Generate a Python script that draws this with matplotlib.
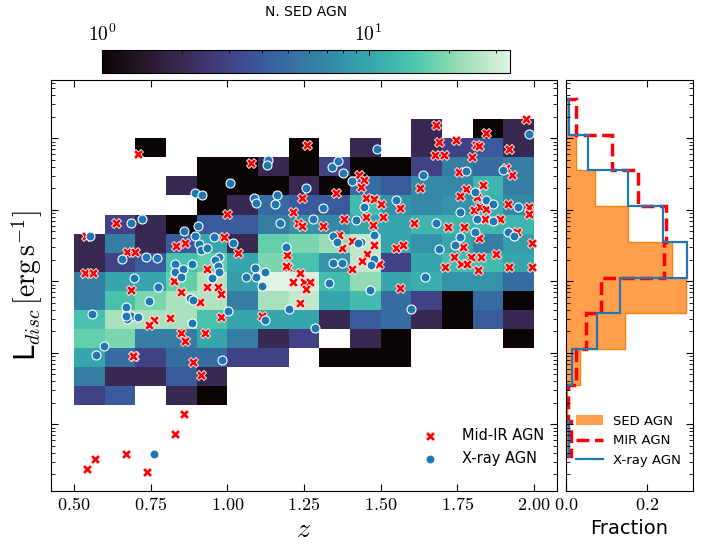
import numpy as np
import matplotlib
matplotlib.use('Agg')
import matplotlib.pyplot as plt
from matplotlib.colors import LogNorm
from matplotlib.ticker import MultipleLocator, FuncFormatter, FixedLocator
import seaborn as sns

plt.rcParams['mathtext.fontset'] = 'cm'

# SED AGN counts per (z, log L) cell, rows from the brightest bin down
z_edges = np.linspace(0.5, 2.0, 16)
logl_edges = np.linspace(43.267, 47.267, 16)
sed_counts = np.array([
    [0, 0, 0, 0, 0, 0, 0, 0, 0, 0, 0, 2, 0, 1, 2],
    [0, 0, 1, 0, 0, 0, 0, 1, 0, 2, 0, 2, 3, 4, 2],
    [0, 0, 0, 0, 1, 1, 2, 1, 3, 1, 1, 3, 6, 5, 6],
    [0, 0, 0, 2, 1, 1, 1, 2, 1, 5, 4, 7, 7, 12, 6],
    [0, 0, 0, 0, 1, 2, 5, 4, 4, 13, 8, 7, 8, 11, 7],
    [0, 3, 2, 1, 4, 4, 6, 8, 7, 10, 10, 12, 12, 12, 12],
    [2, 6, 2, 4, 10, 2, 17, 19, 22, 27, 10, 8, 10, 6, 9],
    [2, 3, 4, 14, 17, 10, 19, 14, 8, 27, 3, 10, 13, 13, 10],
    [6, 10, 10, 17, 25, 9, 34, 32, 13, 21, 10, 11, 8, 8, 5],
    [6, 14, 19, 24, 25, 6, 24, 28, 10, 13, 5, 3, 1, 5, 1],
    [14, 24, 24, 24, 14, 10, 10, 10, 2, 4, 5, 2, 1, 4, 2],
    [17, 19, 6, 6, 10, 6, 2, 3, 0, 2, 1, 0, 0, 0, 1],
    [10, 5, 3, 5, 5, 3, 3, 0, 1, 1, 1, 0, 0, 0, 0],
    [6, 2, 2, 4, 2, 0, 0, 0, 0, 0, 0, 0, 0, 0, 0],
    [3, 4, 0, 2, 1, 0, 0, 0, 0, 0, 0, 0, 0, 0, 0],
])

# Mid-IR selected AGN (z, log L_disc)
mir_z = [0.710, 1.077, 0.998, 0.637, 1.214, 1.229, 1.243, 0.538, 0.988, 0.863,
         0.832, 0.673, 0.700, 1.036, 1.194, 0.536, 0.563, 0.933, 0.826, 0.933,
         0.969, 0.978, 0.687, 0.848, 0.910, 1.197, 1.190, 1.214, 0.762, 0.743,
         0.813, 0.980, 0.848, 0.863, 0.926, 0.696, 0.691, 0.888, 0.915, 1.112,
         1.238, 1.236, 0.541, 0.568, 0.670, 0.737, 0.829, 0.858,
         1.260, 1.428, 1.445, 1.437, 1.355, 1.451, 1.479, 1.502, 1.564, 1.382,
         1.311, 1.452, 1.508, 1.475, 1.365, 1.405, 1.375, 1.478, 1.551, 1.572,
         1.610, 1.455, 1.680, 1.689, 1.677, 1.707, 1.746, 1.812, 1.822, 1.799,
         1.842, 1.918, 1.974, 1.754, 1.929, 1.910, 1.628, 1.778, 1.835, 1.758,
         1.815, 1.803, 1.824, 1.845, 1.914, 1.985, 1.984, 1.840, 1.890, 1.718,
         1.773, 1.820, 1.946, 1.993, 1.770, 1.740, 1.796, 1.826, 1.875, 1.438,
         1.495, 1.408, 1.249, 1.269, 1.258, 1.562, 1.711, 1.761, 1.782, 1.818,
         1.917, 1.995, 1.245]
mir_logl = [46.78, 46.66, 45.94, 45.81, 45.97, 45.81, 46.16, 45.64, 45.62, 45.53,
            45.49, 45.41, 45.41, 45.39, 45.37, 45.11, 45.11, 45.17, 45.00, 44.92,
            44.92, 44.82, 44.88, 44.85, 44.71, 45.20, 45.21, 44.99, 44.46, 44.39,
            44.49, 44.50, 44.28, 44.17, 44.28, 43.95, 43.96, 43.87, 43.69, 44.51,
            44.70, 45.11, 42.37, 42.52, 42.59, 42.33, 42.86, 43.15,
            46.91, 46.48, 46.42, 46.32, 46.23, 46.17, 46.15, 46.08, 46.02, 45.87,
            45.78, 45.90, 45.90, 45.79, 45.65, 45.56, 45.46, 45.51, 45.46, 45.51,
            45.82, 45.38, 47.19, 46.95, 46.77, 46.77, 46.97, 46.91, 46.89, 46.74,
            47.08, 46.85, 47.27, 46.53, 46.49, 46.59, 46.31, 46.29, 46.35, 46.19,
            46.18, 46.00, 46.04, 46.01, 46.08, 46.04, 45.94, 45.87, 45.87, 45.76,
            45.76, 45.61, 45.69, 45.54, 45.48, 45.34, 45.34, 45.34, 45.38, 45.29,
            45.24, 45.17, 44.99, 44.99, 44.89, 44.91, 45.20, 45.24, 45.24, 45.16,
            45.20, 45.20, 45.77]

# X-ray selected AGN (z, log L_disc)
xray_z = [1.134, 1.129, 1.009, 0.893, 0.916, 1.088, 1.093, 1.162, 1.154, 0.723,
          0.686, 1.171, 0.553, 0.858, 0.906, 0.894, 0.958, 1.020, 0.907, 0.915,
          0.933, 1.190, 1.257, 0.735, 0.772, 0.658, 0.974, 0.696, 0.828, 0.828,
          0.854, 0.850, 0.886, 0.960, 0.969, 0.972, 0.951, 0.775, 0.745, 0.877,
          0.888, 0.668, 0.560, 1.002, 1.091, 1.122, 1.114, 1.201, 0.687, 0.710,
          0.674, 0.668, 0.884, 0.599, 0.571, 0.982, 1.122, 1.061, 1.093, 0.761,
          1.984, 1.488, 1.341, 1.361, 1.376, 1.405, 1.639, 1.778, 1.899, 1.313,
          1.551, 1.445, 1.280, 1.419, 1.479, 1.437, 1.427, 1.345, 1.357, 1.680,
          1.758, 1.691, 1.744, 1.758, 1.809, 1.845, 1.866, 1.813, 1.867, 1.914,
          1.934, 1.948, 1.479, 1.470, 1.346, 1.373, 1.332, 1.465, 1.643, 1.599,
          1.807, 1.285]
xray_logl = [46.69, 46.63, 46.37, 46.24, 46.20, 46.16, 46.09, 46.21, 46.08, 45.87,
             45.82, 45.82, 45.64, 45.70, 45.78, 45.63, 45.62, 45.54, 45.52, 45.44,
             45.46, 45.48, 46.30, 45.34, 45.32, 45.31, 45.34, 45.04, 45.24, 45.13,
             45.17, 45.06, 45.24, 45.30, 45.21, 45.13, 45.04, 44.92, 44.72, 44.76,
             44.74, 44.64, 44.54, 44.59, 45.19, 45.13, 44.94, 44.61, 44.51, 44.50,
             44.47, 44.52, 44.42, 44.10, 43.97, 43.90, 44.46, 45.06, 45.06, 42.58,
             47.06, 46.85, 46.60, 46.68, 46.52, 46.40, 46.48, 46.54, 46.55, 46.02,
             46.14, 46.04, 45.87, 45.86, 45.65, 45.55, 45.53, 45.64, 45.55, 45.82,
             45.62, 45.45, 45.51, 45.97, 46.25, 46.14, 46.08, 45.87, 45.84, 45.69,
             45.64, 46.04, 45.31, 45.23, 45.25, 45.25, 44.98, 44.88, 45.06, 44.61,
             45.69, 44.34]

# luminosity distributions (fraction per 0.5 dex bin, lowest bin first)
frac_edges = np.linspace(42.55, 47.55, 11)
sed_frac = [0.002, 0.002, 0.036, 0.146, 0.297, 0.262, 0.153, 0.072, 0.025, 0.004]
mir_frac = [0.012, 0.004, 0.024, 0.049, 0.088, 0.244, 0.247, 0.178, 0.113, 0.024]
xray_frac = [0.008, 0.0, 0.016, 0.076, 0.134, 0.301, 0.240, 0.153, 0.055, 0.0075]

fig = plt.figure(figsize=(7.11, 5.45), dpi=100)
ax = fig.add_axes([0.0717, 0.0991, 0.7117, 0.7541])
axh = fig.add_axes([0.796, 0.0991, 0.1786, 0.7541], sharey=ax)
cax = fig.add_axes([0.1435, 0.866, 0.574, 0.042])

cmap = sns.color_palette('mako', as_cmap=True)
grid = np.ma.masked_equal(sed_counts[::-1], 0)
mesh = ax.pcolormesh(z_edges, 10 ** logl_edges, grid, cmap=cmap,
                     norm=LogNorm(vmin=1, vmax=34))

ax.scatter(mir_z, 10 ** np.array(mir_logl), marker='X', s=52, color='red',
           edgecolor='white', linewidth=0.6, label='Mid-IR AGN', zorder=3)
ax.scatter(xray_z, 10 ** np.array(xray_logl), marker='o', s=42, color='C0',
           edgecolor='white', linewidth=0.8, label='X-ray AGN', zorder=3)

ax.set_yscale('log')
ax.set_xlim(0.425, 2.075)
ax.set_ylim(10 ** 42.067, 10 ** 47.815)
ax.xaxis.set_major_locator(MultipleLocator(0.25))
ax.xaxis.set_major_formatter(FuncFormatter(lambda v, p: r'$%.2f$' % v))
ax.tick_params(which='both', direction='in', top=True, right=True, labelsize=13)
ax.tick_params(axis='y', which='both', labelleft=False)
ax.tick_params(which='major', length=5)
ax.tick_params(which='minor', length=3)
ax.set_xlabel(r'$z$', fontsize=20, labelpad=1)
ax.set_ylabel(r'L$_{disc}\,[\mathrm{erg\,s^{-1}}]$', fontsize=20)
ax.legend(loc='lower right', frameon=False, fontsize=10.5, handletextpad=1.2,
          bbox_to_anchor=(1.0, 0.03))

cb = fig.colorbar(mesh, cax=cax, orientation='horizontal')
cax.xaxis.set_ticks_position('top')
cax.xaxis.set_label_position('top')
cax.xaxis.set_major_locator(FixedLocator([1, 10]))
cax.xaxis.set_major_formatter(FuncFormatter(lambda v, p: r'$10^{%d}$' % round(np.log10(v))))
cax.tick_params(which='both', direction='in', labelsize=14)
cax.set_xlabel('N. SED AGN', fontsize=10, labelpad=6)

# side panel: luminosity histograms
axh.stairs(sed_frac, 10 ** frac_edges, orientation='horizontal', fill=True,
           color='C1', alpha=0.75, label='SED AGN')
axh.stairs(sed_frac, 10 ** frac_edges, orientation='horizontal', color='C1',
           linewidth=1)
axh.stairs(mir_frac, 10 ** frac_edges, orientation='horizontal', color='red',
           linestyle='--', linewidth=2.5, label='MIR AGN')
axh.stairs(xray_frac, 10 ** frac_edges, orientation='horizontal', color='C0',
           linewidth=1.6, label='X-ray AGN')
axh.set_xlim(0, 0.3147)
axh.xaxis.set_major_locator(MultipleLocator(0.2))
axh.xaxis.set_major_formatter(FuncFormatter(lambda v, p: r'$%.1f$' % v))
axh.tick_params(which='both', direction='in', top=True, right=True, labelsize=13)
axh.tick_params(axis='y', which='both', labelleft=False)
axh.tick_params(which='major', length=5)
axh.tick_params(which='minor', length=3)
axh.set_xlabel('Fraction', fontsize=14)
axh.legend(loc='lower right', frameon=False, fontsize=9.5,
           bbox_to_anchor=(1.0, 0.03))

fig.savefig('out.png', dpi=100)
